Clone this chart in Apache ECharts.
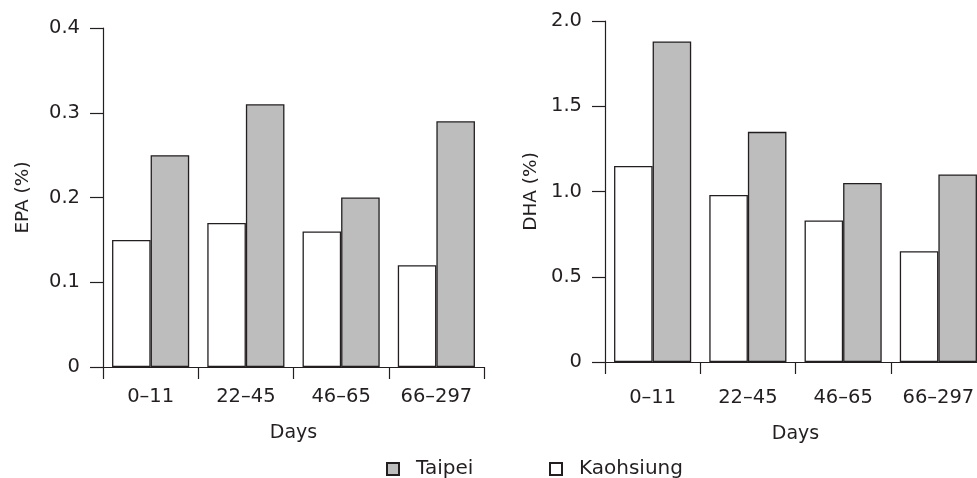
<!DOCTYPE html>
<html>
<head>
<meta charset="utf-8">
<script src="https://cdn.jsdelivr.net/npm/echarts@6/dist/echarts.min.js"></script>
<style>
html,body{margin:0;padding:0;background:#fff;}
#chart{width:977px;height:478px;}
</style>
</head>
<body>
<div id="chart"></div>
<script>
const categories = ['0–11', '22–45', '46–65', '66–297'];
const epaKaohsiung = [0.15, 0.17, 0.16, 0.12];
const epaTaipei = [0.25, 0.31, 0.20, 0.29];
const dhaKaohsiung = [1.15, 0.98, 0.83, 0.65];
const dhaTaipei = [1.88, 1.35, 1.05, 1.10];
const epaTicks = { min: 0, max: 0.4, interval: 0.1 };
const dhaTicks = { min: 0, max: 2.0, interval: 0.5 };

const FONT = 'DejaVu Sans';
const TXT = '#231f20';
const LINE = '#231f20';
const GRAY = '#bdbdbd';

function xAxisCfg(gridIndex, margin, nameGap) {
  return {
    type: 'category', gridIndex, data: categories,
    name: 'Days', nameLocation: 'middle', nameGap,
    nameTextStyle: { fontFamily: FONT, fontSize: 19, color: TXT },
    axisLine: { lineStyle: { color: LINE, width: 1.2 } },
    axisTick: { show: true, length: 12, lineStyle: { color: LINE, width: 1.2 } },
    axisLabel: { fontFamily: FONT, fontSize: 19.5, color: TXT, margin }
  };
}
function yAxisCfg(gridIndex, name, ticks, nameGap, fmt) {
  return {
    type: 'value', gridIndex, name, nameLocation: 'middle', nameGap,
    nameTextStyle: { fontFamily: FONT, fontSize: 18.5, color: TXT },
    min: ticks.min, max: ticks.max, interval: ticks.interval,
    axisLine: { show: true, lineStyle: { color: LINE, width: 1.2 } },
    axisTick: { show: true, length: 13, lineStyle: { color: LINE, width: 1.2 } },
    splitLine: { show: false },
    axisLabel: { fontFamily: FONT, fontSize: 19.5, color: TXT, margin: 23, formatter: fmt }
  };
}
function barSeries(name, data, idx, fill) {
  return {
    type: 'bar', name, data, xAxisIndex: idx, yAxisIndex: idx,
    barGap: '0%', barCategoryGap: '19%',
    itemStyle: { color: fill, borderColor: LINE, borderWidth: 1.3 },
    emphasis: { disabled: true }
  };
}
const fmt1 = v => v === 0 ? '0' : v.toFixed(1);

const chart = echarts.init(document.getElementById('chart'), null, { renderer: 'canvas' });
chart.setOption({
  animation: false,
  backgroundColor: '#fff',
  grid: [
    { left: 103, top: 28, width: 381, height: 339, outerBoundsMode: 'none', containLabel: false },
    { left: 605, top: 21, width: 381, height: 341, outerBoundsMode: 'none', containLabel: false }
  ],
  xAxis: [xAxisCfg(0, 20, 57), xAxisCfg(1, 26, 63)],
  yAxis: [
    yAxisCfg(0, 'EPA (%)', epaTicks, 70, fmt1),
    yAxisCfg(1, 'DHA (%)', dhaTicks, 64, fmt1)
  ],
  legend: [
    { data: ['Taipei'], left: 386, top: 459, padding: 0, itemWidth: 12, itemHeight: 12, icon: 'rect',
      textStyle: { fontFamily: FONT, fontSize: 20, color: TXT, padding: [3, 0, 0, 12] } },
    { data: ['Kaohsiung'], left: 549, top: 459, padding: 0, itemWidth: 12, itemHeight: 12, icon: 'rect',
      textStyle: { fontFamily: FONT, fontSize: 20, color: TXT, padding: [3, 0, 0, 12] } }
  ],
  series: [
    barSeries('Kaohsiung', epaKaohsiung, 0, '#ffffff'),
    barSeries('Taipei', epaTaipei, 0, GRAY),
    barSeries('Kaohsiung', dhaKaohsiung, 1, '#ffffff'),
    barSeries('Taipei', dhaTaipei, 1, GRAY)
  ]
});
</script>
</body>
</html>
